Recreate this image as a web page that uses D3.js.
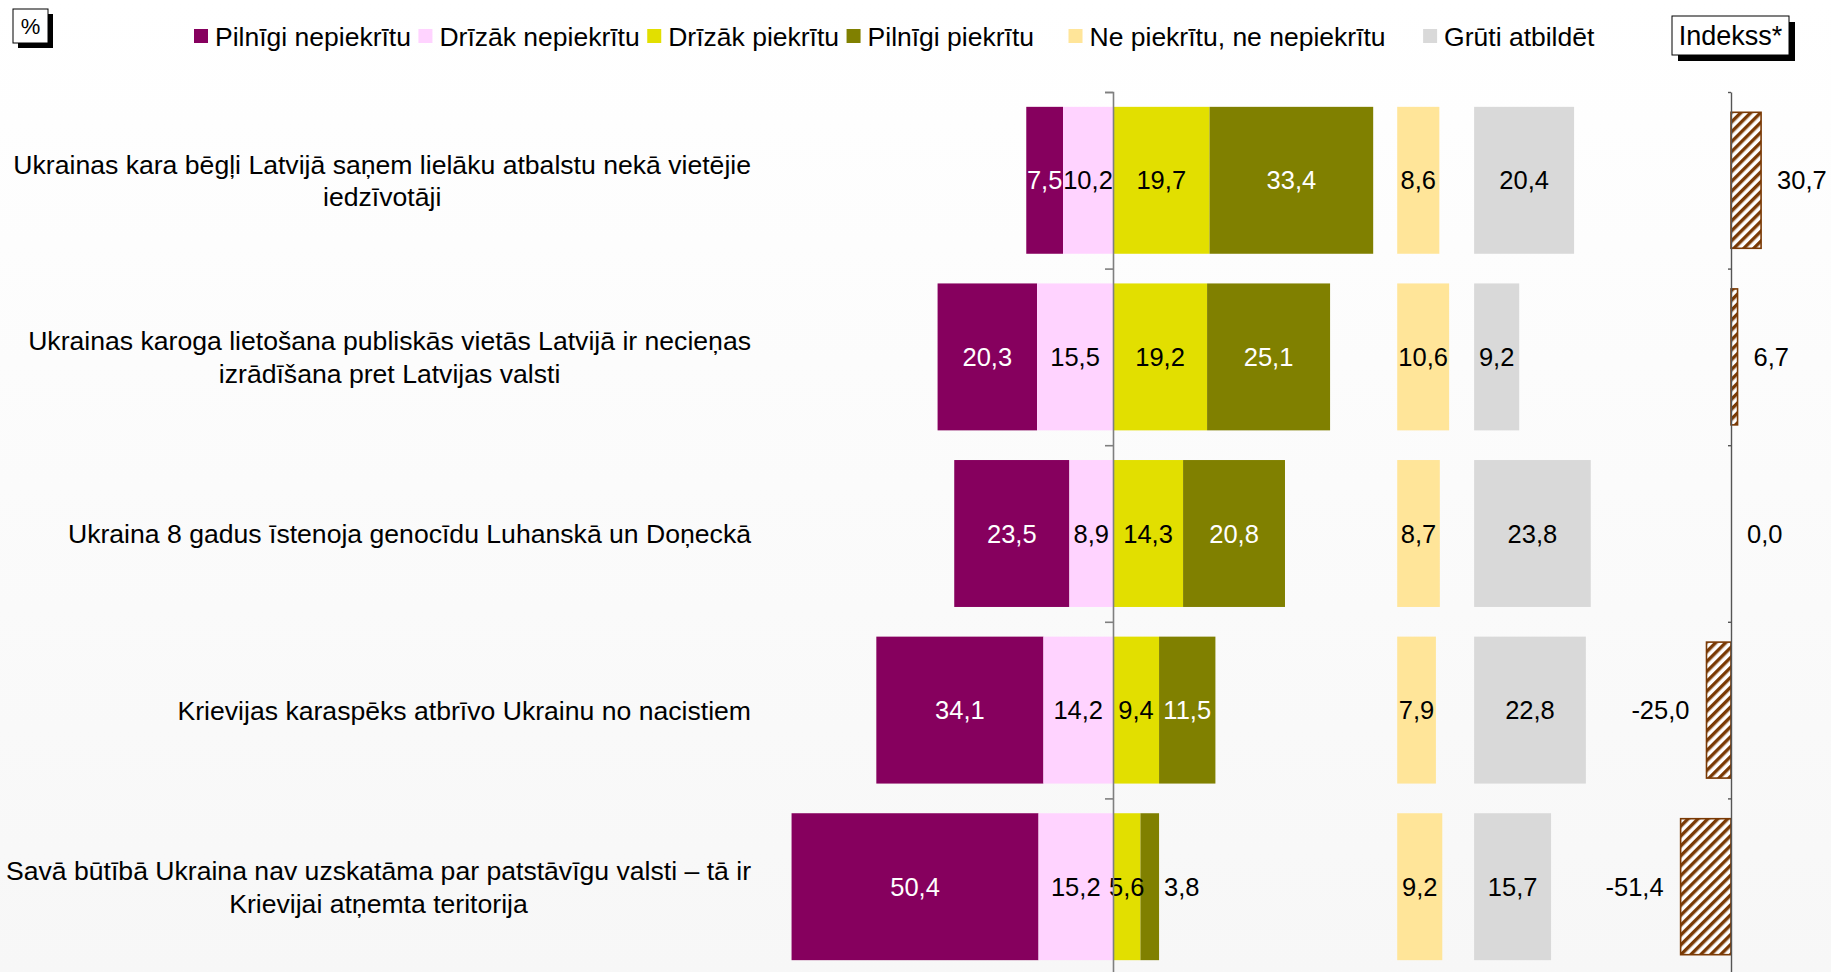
<!DOCTYPE html>
<html>
<head>
<meta charset="utf-8">
<script src="https://cdn.jsdelivr.net/npm/d3@7"></script>
<style>
  html, body { margin: 0; padding: 0; background: #ffffff; }
  svg { display: block; font-family: "Liberation Sans", Arial, sans-serif; }
</style>
</head>
<body>
<svg id="chart" width="1831" height="972"></svg>
<script>
// Statements (label lines separated by "\n")
const categories = [
  "Ukrainas kara bēgļi Latvijā saņem lielāku atbalstu nekā vietējie\niedzīvotāji",
  "Ukrainas karoga lietošana publiskās vietās Latvijā ir necieņas\nizrādīšana pret Latvijas valsti",
  "Ukraina 8 gadus īstenoja genocīdu Luhanskā un Doņeckā",
  "Krievijas karaspēks atbrīvo Ukrainu no nacistiem",
  "Savā būtībā Ukraina nav uzskatāma par patstāvīgu valsti – tā ir\nKrievijai atņemta teritorija"
];

// Answer shares, %
const fullyDisagree  = [7.5, 20.3, 23.5, 34.1, 50.4];
const ratherDisagree = [10.2, 15.5, 8.9, 14.2, 15.2];
const ratherAgree    = [19.7, 19.2, 14.3, 9.4, 5.6];
const fullyAgree     = [33.4, 25.1, 20.8, 11.5, 3.8];
const neutral        = [8.6, 10.6, 8.7, 7.9, 9.2];
const hardToSay      = [20.4, 9.2, 23.8, 22.8, 15.7];

// Index = agree − disagree
const indexValues = [30.7, 6.7, 0.0, -25.0, -51.4];

const seriesNames = [
  "Pilnīgi nepiekrītu", "Drīzāk nepiekrītu", "Drīzāk piekrītu",
  "Pilnīgi piekrītu", "Ne piekrītu, ne nepiekrītu", "Grūti atbildēt"
];
const seriesColors = ["#86005e", "#ffd3ff", "#e2df00", "#808000", "#ffe599", "#d9d9d9"];
const labelColors  = ["#ffffff", "#000000", "#000000", "#ffffff", "#000000", "#000000"];

// one decimal, decimal comma, plain hyphen for negatives
const fmt = v => v.toFixed(1).replace(".", ",");

const svg = d3.select("#chart");
const W = 1831, H = 972;

// soft background wash
const defs = svg.append("defs");
const bg = defs.append("linearGradient").attr("id", "bgGrad")
  .attr("x1", 0).attr("y1", 0).attr("x2", 0).attr("y2", 1);
bg.append("stop").attr("offset", "0%").attr("stop-color", "#ffffff");
bg.append("stop").attr("offset", "100%").attr("stop-color", "#f7f7f7");
svg.append("rect").attr("width", W).attr("height", H).attr("fill", "url(#bgGrad)");

// hatch for the index bars
const hatch = defs.append("pattern").attr("id", "hatch")
  .attr("patternUnits", "userSpaceOnUse").attr("width", 7).attr("height", 7)
  .attr("patternTransform", "rotate(45)");
hatch.append("rect").attr("width", 7).attr("height", 7).attr("fill", "#ffffff");
hatch.append("rect").attr("width", 3.4).attr("height", 7).attr("fill", "#7a3a05");

// scales
const rowIdx = d3.range(categories.length);
const plotTop = 92, plotBottom = 975;
const y = d3.scaleBand().domain(rowIdx).range([plotTop, plotBottom])
  .paddingInner(0.168).paddingOuter(0.084);
const yIdx = d3.scaleBand().domain(rowIdx).range([plotTop, plotBottom])
  .paddingInner(0.23).paddingOuter(0.115);
const yEdges = d3.scaleLinear().domain([0, categories.length]).range([plotTop, plotBottom]);

const x = d3.scaleLinear().domain([-65, 60]).range([1113 - 65 * 4.9, 1113 + 60 * 4.9]);
const xIdx = d3.scaleLinear().domain([-60, 40]).range([1731 - 60 * 0.98, 1731 + 40 * 0.98]);

// side columns start (in % units of x)
const neutralStart = 58;
const hardStart = 73.7;

// build segments
const segs = [];
rowIdx.forEach(i => {
  const d1 = fullyDisagree[i], d2 = ratherDisagree[i];
  const a1 = ratherAgree[i], a2 = fullyAgree[i];
  segs.push({ row: i, s: 0, x0: -(d1 + d2), x1: -d2, v: d1 });
  segs.push({ row: i, s: 1, x0: -d2, x1: 0, v: d2 });
  segs.push({ row: i, s: 2, x0: 0, x1: a1, v: a1 });
  segs.push({ row: i, s: 3, x0: a1, x1: a1 + a2, v: a2 });
  segs.push({ row: i, s: 4, x0: neutralStart, x1: neutralStart + neutral[i], v: neutral[i] });
  segs.push({ row: i, s: 5, x0: hardStart, x1: hardStart + hardToSay[i], v: hardToSay[i] });
});

const gBars = svg.append("g");
gBars.selectAll("rect").data(segs).join("rect")
  .attr("x", d => x(d.x0))
  .attr("width", d => x(d.x1) - x(d.x0))
  .attr("y", d => y(d.row))
  .attr("height", y.bandwidth())
  .attr("fill", d => seriesColors[d.s]);

// value labels (a very thin outer segment gets its label just outside)
const outside = d => d.s === 3 && d.v < 5;
gBars.selectAll("text").data(segs).join("text")
  .attr("x", d => outside(d) ? x(d.x1) + 5 : (x(d.x0) + x(d.x1)) / 2)
  .attr("text-anchor", d => outside(d) ? "start" : "middle")
  .attr("y", d => y(d.row) + y.bandwidth() / 2)
  .attr("dy", "0.36em")
  .attr("font-size", 25.5)
  .attr("fill", d => outside(d) ? "#000000" : labelColors[d.s])
  .text(d => fmt(d.v));

// main zero axis
const axMain = svg.append("g").attr("transform", `translate(${x(0)},0)`)
  .call(d3.axisLeft(yEdges).tickValues(d3.range(categories.length + 1))
    .tickFormat("").tickSize(8).tickSizeOuter(8));
axMain.selectAll("path, line").attr("stroke", "#7f7f7f").attr("stroke-width", 1.6);

// category labels
const gCat = svg.append("g");
rowIdx.forEach(i => {
  const lines = categories[i].split("\n");
  const t = gCat.append("text").attr("font-size", 26.6).attr("fill", "#000");
  const lineH = 32.5;
  const cy = y(i) + y.bandwidth() / 2;
  lines.forEach((ln, k) => {
    t.append("tspan").text(ln)
      .attr("y", cy + (k - (lines.length - 1) / 2) * lineH)
      .attr("dy", "0.36em");
  });
  // centre all lines under the widest one, right edge at 751
  const widths = t.selectAll("tspan").nodes().map(n => n.getComputedTextLength());
  const cx = 751 - d3.max(widths) / 2;
  t.attr("text-anchor", "middle").selectAll("tspan").attr("x", cx);
});

// index bars
const gIdx = svg.append("g");
gIdx.selectAll("rect").data(indexValues).join("rect")
  .attr("x", d => xIdx(Math.min(0, d)))
  .attr("width", d => Math.abs(xIdx(d) - xIdx(0)))
  .attr("y", (d, i) => yIdx(i))
  .attr("height", yIdx.bandwidth())
  .attr("fill", "url(#hatch)")
  .attr("stroke", d => d === 0 ? "none" : "#7a3a05")
  .attr("stroke-width", 1.6);

gIdx.selectAll("text").data(indexValues).join("text")
  .attr("x", d => d < 0 ? xIdx(d) - 17 : xIdx(d) + 16)
  .attr("text-anchor", d => d < 0 ? "end" : "start")
  .attr("y", (d, i) => yIdx(i) + yIdx.bandwidth() / 2)
  .attr("dy", "0.36em")
  .attr("font-size", 25.5)
  .attr("fill", "#000")
  .text(d => fmt(d));

const axIdx = svg.append("g").attr("transform", `translate(${xIdx(0)},0)`)
  .call(d3.axisLeft(yEdges).tickValues(d3.range(categories.length + 1))
    .tickFormat("").tickSize(3).tickSizeOuter(0));
axIdx.selectAll("path, line").attr("stroke", "#555555").attr("stroke-width", 1.4);

// legend: four scale answers packed, the two side columns spaced wider
const gLeg = svg.append("g");
const legGaps = [7.5, 7.5, 7.5, 34.5, 37.5];
let cursor = 194;
seriesNames.forEach((name, i) => {
  gLeg.append("rect").attr("x", cursor).attr("y", 29).attr("width", 14).attr("height", 14)
    .attr("fill", seriesColors[i]);
  const t = gLeg.append("text").attr("x", cursor + 21).attr("y", 36).attr("dy", "0.36em")
    .attr("font-size", 26.5).attr("fill", "#000").text(name);
  cursor = cursor + 21 + t.node().getComputedTextLength() + (legGaps[i] || 0);
});

// boxed captions with drop shadow
function shadowBox(bx, by, bw, bh, off, label, size) {
  const g = svg.append("g");
  g.append("rect").attr("x", bx + off).attr("y", by + off).attr("width", bw).attr("height", bh).attr("fill", "#000");
  g.append("rect").attr("x", bx).attr("y", by).attr("width", bw).attr("height", bh)
    .attr("fill", "#fff").attr("stroke", "#000").attr("stroke-width", 1);
  g.append("text").attr("x", bx + bw / 2).attr("y", by + bh / 2).attr("dy", "0.36em")
    .attr("text-anchor", "middle").attr("font-size", size).attr("fill", "#000").text(label);
}
shadowBox(13, 9, 35, 34, 5, "%", 22);
shadowBox(1672, 16, 117, 39, 6, "Indekss*", 27);
</script>
</body>
</html>
